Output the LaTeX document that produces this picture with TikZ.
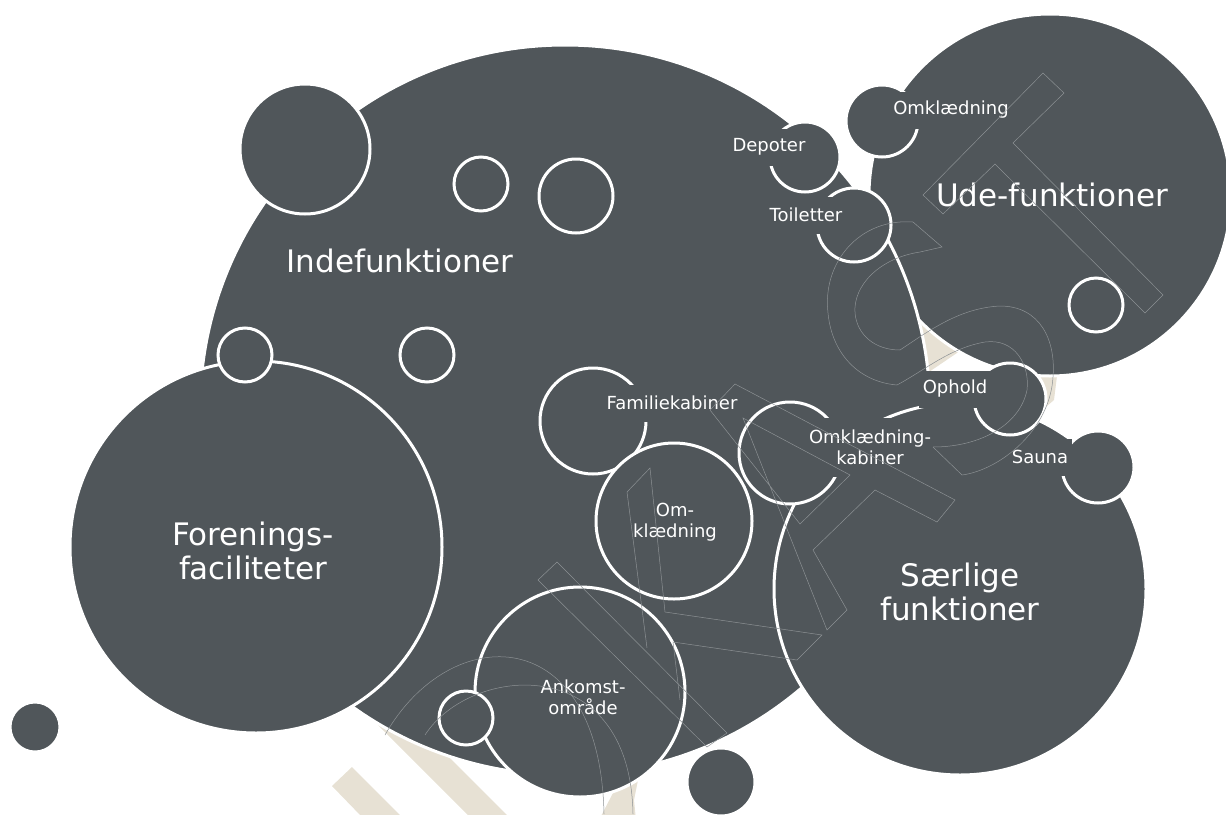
\documentclass[tikz,border=0pt]{standalone}
\usepackage{fontspec}
\setmainfont{DejaVu Sans}
\definecolor{dk}{RGB}{80,86,90}
\definecolor{bge}{RGB}{231,225,212}
\definecolor{wm}{RGB}{140,145,148}
\begin{document}
\begin{tikzpicture}[x=1pt,y=-1pt,
  blob/.style={circle, fill=dk, draw=white, line width=3pt, inner sep=0pt, minimum size=#1},
  lab/.style={fill=dk, text=white, inner xsep=4pt, inner ysep=0pt, minimum height=37pt,
              font=\fontsize{18pt}{21pt}\selectfont, align=center},
  lab2/.style={lab, minimum height=59pt},
  big/.style={text=white, inner sep=0pt, font=\fontsize{31pt}{34pt}\selectfont, align=center},
  wmline/.style={draw=wm, line width=0.5pt},
  stripe/.style={fill=bge, draw=none}]
\useasboundingbox (0,0) rectangle (1226,814);

% watermark (beige, behind)
\fill[stripe] (332,786) -- (352,767) -- (402,817) -- (362,817) -- cycle;
\fill[stripe] (303,650) -- (342,650) -- (512,820) -- (473,820) -- cycle;
\fill[stripe] (599,820) -- (613,793) -- (625,770) -- (640,770) -- (634,800) -- (636,820) -- cycle;
\fill[stripe] (900,290) -- (1010,290) -- (1010,317) -- (895,395) -- cycle;
\fill[stripe] (1035,372) -- (1057,376) -- (1054,400) -- (1040,412) -- cycle;

% circles
\node[blob=362pt] (ude) at (1050,195) {};
\node[blob=730pt] (inde) at (565,410) {};
\node[blob=130pt] (tl) at (305,149) {};
\node[blob=54pt] (r1) at (481,184) {};
\node[blob=74pt] (r2) at (576,196) {};
\node[blob=54pt] (r4) at (427,355) {};
\node[blob=372pt] (foren) at (256,547) {};
\node[blob=54pt] (r3) at (245,355) {};
\node[blob=106pt] (famc) at (593,421) {};
\node[blob=156pt] (omkc) at (674,521) {};
\node[blob=210pt] (ankc) at (580,692) {};
\node[blob=54pt] (r5) at (466,718) {};
\node[blob=68pt] (dot1) at (721,782) {};
\node[blob=50pt] (dot2) at (35,727) {};
\node[blob=372pt] (saer) at (960,589) {};
\node[blob=102pt] (okc) at (790,453) {};
\node[blob=72pt] (oph) at (1010,399) {};
\node[blob=72pt] (sau) at (1098,467) {};
\node[blob=70pt] (dep) at (805,157) {};
\node[blob=74pt] (toi) at (854,225) {};
\node[blob=72pt] (omu) at (882,121) {};
\node[blob=54pt] (r6) at (1096,305) {};

% labels
\node[lab] (lfam) at (672,403) {Familiekabiner};
\node[lab] (ldep) at (769,147) {Depoter};
\node[lab] (ltoi) at (806,215) {Toiletter};
\node[lab] (lomu) at (951,110) {Omklædning};
\node[lab] (loph) at (955,389) {Ophold};
\node[lab] (lsau) at (1040,457) {Sauna};
\node[lab2] (lokc) at (870,447) {Omklædning-\\kabiner};
\node[lab2] (lomk) at (675,522) {Om-\\klædning};
\node[lab2] (lank) at (583,697) {Ankomst-\\område};
\node[big] (linde) at (400,261) {Indefunktioner};
\node[big] (lude) at (1052,195) {Ude-funktioner};
\node[big] (lfor) at (253,551) {Forenings-\\faciliteter};
\node[big] (lsae) at (960,592) {Særlige\\funktioner};

% watermark outlines (faint)
\draw[wmline] (1043,73) -- (1064,93) -- (1013,143) -- (1163,295) -- (1145,313) -- (995,164) -- (943,214) -- (923,195) -- cycle;
\draw[wmline] (710,410) -- (735,384) -- (955,500) -- (937,522) -- (875,490) -- (813,550) -- (847,610) -- (827,630) -- (743,418) -- (850,475) -- (800,524) -- (710,410);
\draw[wmline] (627,492) -- (650,468) -- (665,612) -- (822,635) -- (797,660) -- (673,642) -- (680,700);
\draw[wmline] (627,492) -- (647,648);
\draw[wmline] (538,580) -- (557,562) -- (727,733) -- (707,747) -- cycle;
\draw[wmline] (385,735) .. controls (450,620) and (600,620) .. (604,814);
\draw[wmline] (425,735) .. controls (470,665) and (630,650) .. (633,814);
\draw[wmline] (913,222) .. controls (860,218) and (822,262) .. (828,313) .. controls (832,355) and (860,382) .. (897,385);
\draw[wmline] (913,222) -- (942,247) -- (920,252) .. controls (880,258) and (853,285) .. (855,313) .. controls (857,335) and (875,350) .. (900,350);
\draw[wmline] (900,350) .. controls (930,330) and (960,308) .. (1000,306) .. controls (1040,306) and (1056,340) .. (1053,377) .. controls (1050,430) and (1000,470) .. (962,475) -- (933,447);
\draw[wmline] (897,385) .. controls (925,370) and (950,348) .. (985,342) .. controls (1015,338) and (1030,365) .. (1027,390) .. controls (1020,425) and (980,447) .. (933,447);
\end{tikzpicture}
\end{document}
